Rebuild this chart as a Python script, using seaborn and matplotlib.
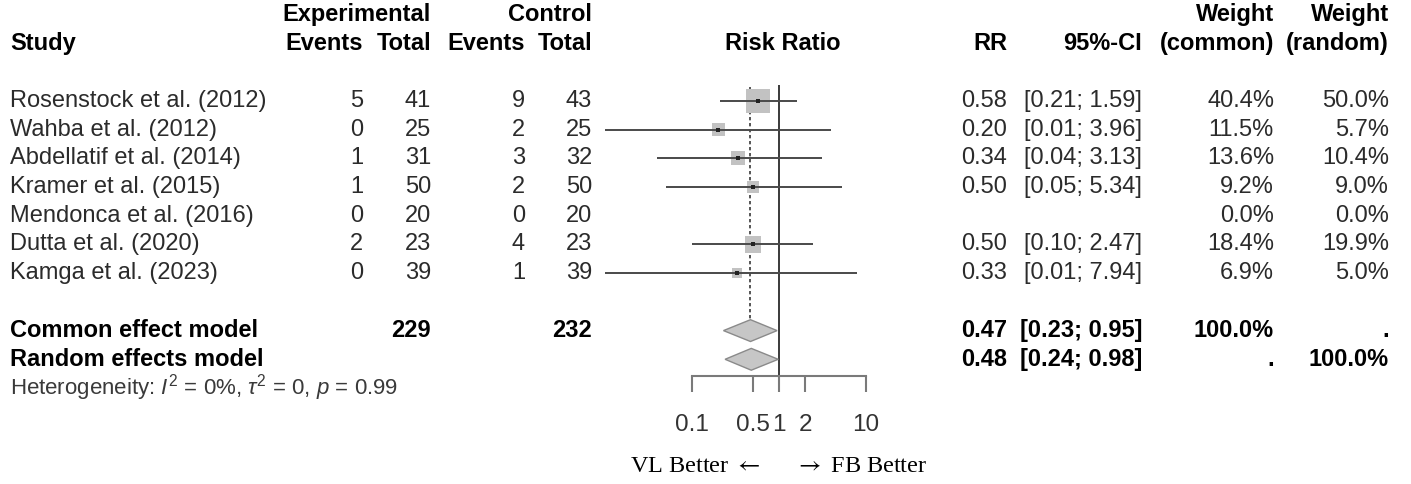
import numpy as np
import pandas as pd
import matplotlib
matplotlib.use("Agg")
import matplotlib.pyplot as plt
import seaborn as sns

# study data
studies = ["Rosenstock et al. (2012)", "Wahba et al. (2012)", "Abdellatif et al. (2014)",
           "Kramer et al. (2015)", "Mendonca et al. (2016)", "Dutta et al. (2020)",
           "Kamga et al. (2023)"]
exp_events = [5, 0, 1, 1, 0, 2, 0]
exp_total = [41, 25, 31, 50, 20, 23, 39]
ctrl_events = [9, 2, 3, 2, 0, 4, 1]
ctrl_total = [43, 25, 32, 50, 20, 23, 39]
rr = [0.58, 0.20, 0.34, 0.50, np.nan, 0.50, 0.33]
ci_low = [0.21, 0.01, 0.04, 0.05, np.nan, 0.10, 0.01]
ci_high = [1.59, 3.96, 3.13, 5.34, np.nan, 2.47, 7.94]
w_common = [40.4, 11.5, 13.6, 9.2, 0.0, 18.4, 6.9]
w_random = [50.0, 5.7, 10.4, 9.0, 0.0, 19.9, 5.0]

# pooled estimates
summary_labels = ["Common effect model", "Random effects model"]
summary_rr = [0.47, 0.48]
summary_low = [0.23, 0.24]
summary_high = [0.95, 0.98]
summary_wc = ["100.0%", "."]
summary_wr = [".", "100.0%"]
total_exp = 229
total_ctrl = 232
hetero = "Heterogeneity: $I^2$ = 0%, $\\tau^2$ = 0, $p$ = 0.99"

ticks = [0.1, 0.5, 1, 2, 10]
tick_labels = ["0.1", "0.5", "1", "2", "10"]

sns.set_theme(style="white")
plt.rcParams["font.family"] = ["Liberation Sans", "DejaVu Sans"]
plt.rcParams["mathtext.fontset"] = "custom"
plt.rcParams["mathtext.rm"] = "Liberation Sans"
plt.rcParams["mathtext.it"] = "Liberation Sans:italic"

W, H = 1411, 484
ROW0, ROWH = 101, 28.7


def px_row(py):
    return (py - ROW0) / ROWH


df = pd.DataFrame({"study": studies, "rr": rr, "lo": ci_low, "hi": ci_high,
                   "w": w_common, "row": np.arange(len(studies))})
n = len(studies)
sum_rows = [n + 1, n + 2]

fig = plt.figure(figsize=(W / 100, H / 100), dpi=100)

# text layer in pixel x / row y
tax = fig.add_axes([0, 0, 1, 1])
tax.set_xlim(0, W)
tax.set_ylim(px_row(H), px_row(0))
tax.axis("off")

# forest panel
x_left = 779 - 2.1 * 87
x_right = 779 + 1.2 * 87
top_px, axis_px = 85, 376
fax = fig.add_axes([x_left / W, (H - axis_px) / H, (x_right - x_left) / W,
                    (axis_px - top_px) / H])
fax.set_facecolor("none")
fax.set_xscale("log")

pts = df.dropna()
sns.scatterplot(data=pts, x="rr", y="row", size="w",
                sizes=(7.4 * pts["w"].min(), 7.4 * pts["w"].max()),
                marker="s", color="#c2c2c2", linewidth=0, legend=False,
                ax=fax, zorder=2)
fax.hlines(pts["row"], pts["lo"], pts["hi"], color="#4a4a4a", lw=1.4, zorder=3)
sns.scatterplot(data=pts, x="rr", y="row", marker="s", s=9, color="#222222",
                linewidth=0, legend=False, ax=fax, zorder=4)

for r, est, lo, hi in zip(sum_rows, summary_rr, summary_low, summary_high):
    fax.fill([lo, est, hi, est], [r, r - 0.38, r, r + 0.38],
             facecolor="#c6c6c6", edgecolor="#8a8a8a", lw=1.0, zorder=3)

fax.axvline(1, color="#3a3a3a", lw=1.4, zorder=1)
fax.vlines(summary_rr[0], -0.5, 7.6, color="#3a3a3a", lw=1.2,
           linestyles=(0, (2, 1.6)), zorder=1)

fax.set_xlim(10 ** -2.1, 10 ** 1.2)
fax.set_ylim(px_row(axis_px), px_row(top_px))
fax.set_xlabel("")
fax.set_ylabel("")
fax.set_yticks([])
for s in ["top", "right", "left"]:
    fax.spines[s].set_visible(False)
fax.spines["bottom"].set_bounds(ticks[0], ticks[-1])
fax.spines["bottom"].set_color("#7a7a7a")
fax.spines["bottom"].set_linewidth(1.5)
fax.set_xticks(ticks)
fax.set_xticklabels(tick_labels)
fax.minorticks_off()
fax.tick_params(axis="x", direction="out", length=11.5, width=1.5,
                color="#7a7a7a", labelsize=17.5, labelcolor="#333333", pad=16,
                bottom=True)

# text columns
FS = 17
reg = dict(fontsize=FS, color="#2b2b2b", va="center")
bold = dict(fontsize=FS, color="black", va="center", fontweight="bold")

head1, head2 = -3, -2
tax.text(431, head1, "Experimental", ha="right", **bold)
tax.text(592, head1, "Control", ha="right", **bold)
tax.text(1274, head1, "Weight", ha="right", **bold)
tax.text(1389, head1, "Weight", ha="right", **bold)
tax.text(10, head2, "Study", ha="left", **bold)
for x, t in [(363, "Events"), (431, "Total"), (525, "Events"), (592, "Total"),
             (1007, "RR"), (1142, "95%-CI"), (1274, "(common)"), (1389, "(random)")]:
    tax.text(x, head2, t, ha="right", **bold)
tax.text(783, head2, "Risk Ratio", ha="center", **bold)

for i in range(n):
    tax.text(10, i, studies[i], ha="left", **reg)
    tax.text(363, i, str(exp_events[i]), ha="right", **reg)
    tax.text(431, i, str(exp_total[i]), ha="right", **reg)
    tax.text(525, i, str(ctrl_events[i]), ha="right", **reg)
    tax.text(592, i, str(ctrl_total[i]), ha="right", **reg)
    if not np.isnan(rr[i]):
        tax.text(1007, i, f"{rr[i]:.2f}", ha="right", **reg)
        tax.text(1142, i, f"[{ci_low[i]:.2f}; {ci_high[i]:.2f}]", ha="right", **reg)
    tax.text(1274, i, f"{w_common[i]:.1f}%", ha="right", **reg)
    tax.text(1389, i, f"{w_random[i]:.1f}%", ha="right", **reg)

for k, r in enumerate(sum_rows):
    tax.text(10, r, summary_labels[k], ha="left", **bold)
    tax.text(1007, r, f"{summary_rr[k]:.2f}", ha="right", **bold)
    tax.text(1142, r, f"[{summary_low[k]:.2f}; {summary_high[k]:.2f}]", ha="right", **bold)
    tax.text(1274, r, summary_wc[k], ha="right", **bold)
    tax.text(1389, r, summary_wr[k], ha="right", **bold)
tax.text(431, sum_rows[0], str(total_exp), ha="right", **bold)
tax.text(592, sum_rows[0], str(total_ctrl), ha="right", **bold)

tax.text(10, n + 3, hetero, ha="left", fontsize=16, color="#3a3a3a", va="center")

serif = ["Liberation Serif", "DejaVu Serif"]
tax.text(760, px_row(467), "VL Better $\\leftarrow$", ha="right", va="center",
         fontsize=17.5, family=serif, color="black", math_fontfamily="stix")
tax.text(795, px_row(467), "$\\rightarrow$ FB Better", ha="left", va="center",
         fontsize=17.5, family=serif, color="black", math_fontfamily="stix")

fig.savefig("out.png", dpi=100, facecolor="white")
